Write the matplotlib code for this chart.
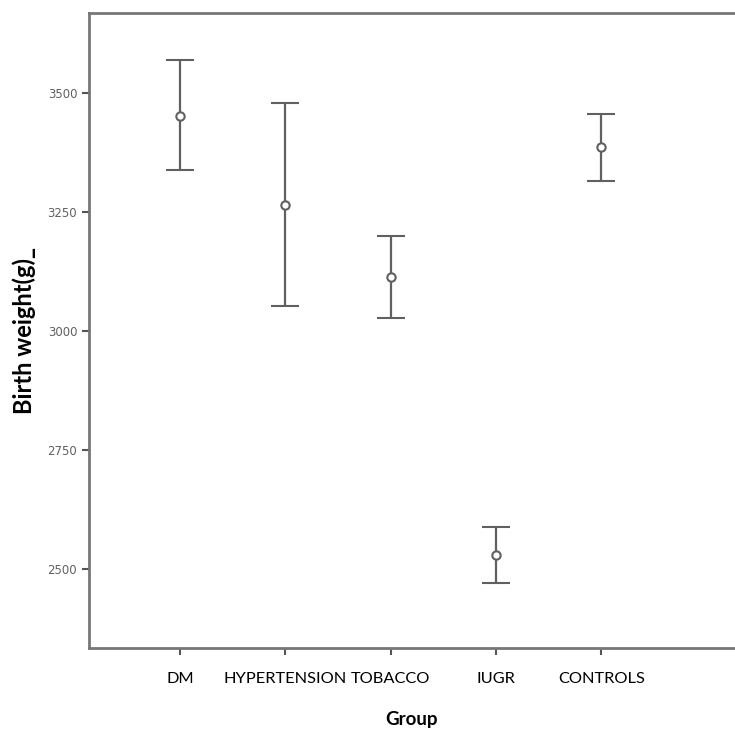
import matplotlib.pyplot as plt

groups = ['DM', 'HYPERTENSION', 'TOBACCO', 'IUGR', 'CONTROLS']
means = [3452, 3265, 3113, 2529, 3387]
upper = [3569, 3479, 3200, 2588, 3456]
lower = [3338, 3053, 3027, 2471, 3315]
yticks = [2500, 2750, 3000, 3250, 3500]

fig = plt.figure(figsize=(7.35, 7.31), dpi=100)
ax = fig.add_axes([89/735, 1 - 648/731, 1 - 89/735, (648 - 13)/731])

x = list(range(1, len(groups) + 1))
err = [[m - l for m, l in zip(means, lower)], [u - m for m, u in zip(means, upper)]]
ax.errorbar(x, means, yerr=err, fmt='o', color='#606060', ecolor='#606060',
            elinewidth=1.6, capsize=10, capthick=2.2,
            markersize=6, markerfacecolor='white', markeredgewidth=1.5)

ax.set_xlim(0.137, 6.27)
ax.set_ylim(2334, 3668)
ax.set_xticks(x)
ax.set_xticklabels(groups, fontsize=11.8, family='Lato')
ax.set_yticks(yticks)
ax.set_yticklabels([str(v) for v in yticks], fontsize=8.5, color='#606060',
                   family='Liberation Sans Narrow')

for side in ['left', 'bottom', 'top']:
    ax.spines[side].set_color('#777777')
    ax.spines[side].set_linewidth(2)
ax.spines['right'].set_visible(False)
ax.tick_params(axis='both', color='#555555', width=1.5, length=5)
ax.tick_params(axis='x', pad=12)

ax.set_xlabel('Group', fontsize=13.5, fontweight='bold', family='Lato', labelpad=18)
ax.set_ylabel('Birth weight(g)_', fontsize=17, fontweight='bold', family='Lato', labelpad=8)

fig.savefig('out.png', dpi=100)
